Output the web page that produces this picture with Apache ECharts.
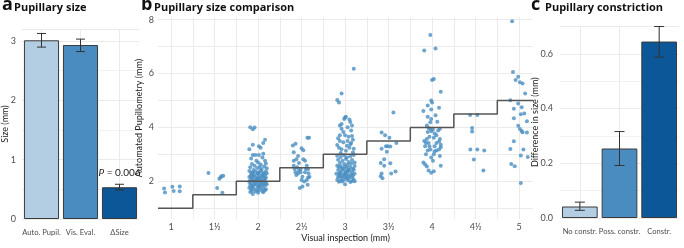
<!DOCTYPE html>
<html>
<head>
<meta charset="utf-8">
<script src="https://cdn.jsdelivr.net/npm/echarts@6/dist/echarts.min.js"></script>
<style>
  html, body { margin: 0; padding: 0; background: #fff; }
  #chart { width: 684px; height: 248px; }
</style>
</head>
<body>
<div id="chart"></div>
<script>
// panel a - pupillary size
const sizeCats = ['Auto. Pupil.', 'Vis. Eval.', 'ΔSize']
const sizeMeans = [3.01, 2.93, 0.535]
const sizeLow = [2.895, 2.82, 0.49]
const sizeHigh = [3.125, 3.03, 0.585]

// panel b - pupillary size comparison
const visualLevels = [1, 1.5, 2, 2.5, 3, 3.5, 4, 4.5, 5]
const pts1 = [[0.92, 1.73], [0.93, 1.58], [1.015, 1.80], [1.03, 1.64], [1.10, 1.81], [1.10, 1.63]]
const pts15 = [[1.43, 2.31], [1.53, 1.75], [1.555, 2.09], [1.57, 2.15], [1.58, 2.19], [1.60, 2.21], [1.59, 1.57]]
const pts2 = [
  [1.91, 4.01], [1.94, 3.93], [1.96, 4.00],
  [1.90, 3.19], [2.01, 3.30], [2.03, 3.25], [2.08, 3.54], [2.06, 3.42], [1.94, 3.36], [1.94, 2.98], [1.97, 2.98],
  [2.01, 2.98], [2.06, 3.02], [1.98, 2.76], [2.08, 2.76], [1.92, 2.85], [2.05, 2.88],
  [1.93, 2.64], [1.96, 2.58], [2.00, 2.70], [2.03, 2.62], [2.07, 2.55], [2.09, 2.66], [1.91, 2.52], [1.99, 2.49],
  [2.04, 2.45], [2.10, 2.48], [1.95, 2.42], [2.02, 2.53],
  [1.90, 2.38], [1.93, 2.33], [1.97, 2.36], [2.00, 2.30], [2.03, 2.39], [2.06, 2.32], [2.09, 2.37], [1.92, 2.25],
  [1.95, 2.22], [1.99, 2.27], [2.02, 2.21], [2.05, 2.26], [2.08, 2.23], [2.10, 2.29], [1.94, 2.30], [2.01, 2.34],
  [1.90, 2.16], [1.93, 2.12], [1.96, 2.18], [1.98, 2.08], [2.00, 2.14], [2.03, 2.10], [2.05, 2.17], [2.07, 2.05],
  [2.09, 2.13], [1.91, 2.04], [1.94, 2.07], [1.97, 2.02], [2.01, 2.06], [2.04, 2.01], [2.08, 2.09], [1.92, 2.19],
  [2.06, 2.20], [1.99, 2.11],
  [1.90, 1.97], [1.92, 1.92], [1.95, 1.99], [1.97, 1.94], [2.00, 1.96], [2.02, 1.90], [2.04, 1.98], [2.07, 1.93],
  [2.09, 1.95], [1.91, 1.86], [1.94, 1.83], [1.96, 1.88], [1.99, 1.85], [2.01, 1.81], [2.05, 1.87], [2.08, 1.84],
  [2.10, 1.89], [1.93, 1.80], [2.03, 1.84],
  [1.90, 1.76], [1.92, 1.71], [1.95, 1.74], [1.98, 1.69], [2.00, 1.77], [2.03, 1.72], [2.06, 1.75], [2.09, 1.70],
  [1.93, 1.65], [1.97, 1.62], [2.01, 1.66], [2.05, 1.64], [2.08, 1.67], [1.91, 1.60],
  [1.94, 1.53], [2.00, 1.57], [2.06, 1.59]
]
const pts25 = [
  [2.567, 3.62], [2.586, 3.62], [2.40, 3.33], [2.43, 3.39], [2.41, 3.08], [2.50, 3.23], [2.52, 3.15], [2.44, 2.82],
  [2.47, 2.68], [2.52, 2.82], [2.54, 2.76], [2.56, 2.58], [2.575, 2.46], [2.41, 2.58], [2.42, 2.46], [2.43, 2.34],
  [2.44, 2.23], [2.46, 2.29], [2.49, 2.34], [2.51, 2.17], [2.50, 2.05], [2.53, 1.99], [2.56, 2.05], [2.575, 2.14],
  [2.59, 2.17], [2.48, 1.75], [2.51, 1.81], [2.57, 1.87], [2.45, 2.52], [2.49, 2.46], [2.47, 2.40], [2.54, 2.34],
  [2.41, 2.76], [2.46, 2.94], [2.58, 2.30], [2.55, 2.46]
]
const pts3 = [
  [3.10, 6.18], [2.96, 5.26], [2.91, 5.02], [2.93, 4.93],
  [3.00, 4.37], [2.99, 4.31], [3.01, 4.40], [2.96, 4.13], [2.94, 4.07], [3.05, 4.29], [3.06, 4.20], [3.03, 4.01],
  [3.08, 4.07], [3.07, 3.89], [2.96, 3.95], [2.98, 3.83], [2.94, 3.71], [3.00, 3.71], [3.04, 3.65], [3.08, 3.68],
  [2.92, 3.60], [2.94, 3.50], [2.98, 3.45], [3.03, 3.50], [3.07, 3.42], [3.09, 3.54], [2.93, 3.25], [2.96, 3.19],
  [3.01, 3.13], [3.05, 3.25], [3.09, 3.07], [3.10, 3.21], [2.91, 3.35], [3.02, 3.32], [2.95, 3.05], [3.06, 3.38],
  [2.91, 2.95], [2.95, 2.90], [2.99, 2.97], [3.02, 2.88], [3.06, 2.93], [3.10, 2.98], [2.92, 2.80], [2.97, 2.76],
  [3.01, 2.83], [3.04, 2.72], [3.08, 2.79], [2.94, 2.68], [2.99, 2.64], [3.03, 2.61], [3.07, 2.66], [3.11, 2.70],
  [2.91, 2.58], [2.93, 2.52], [2.95, 2.56], [2.97, 2.48], [3.00, 2.55], [3.02, 2.50], [3.04, 2.44], [3.06, 2.53],
  [3.09, 2.47], [3.11, 2.57], [2.92, 2.42], [2.96, 2.39], [2.98, 2.45], [3.01, 2.36], [3.05, 2.40], [3.08, 2.34],
  [3.10, 2.43], [2.94, 2.33], [3.00, 2.31], [3.03, 2.38],
  [2.90, 2.28], [2.93, 2.24], [2.95, 2.29], [2.97, 2.20], [2.99, 2.26], [3.01, 2.22], [3.03, 2.27], [3.05, 2.18],
  [3.07, 2.25], [3.09, 2.21], [3.11, 2.28], [2.92, 2.15], [2.96, 2.12], [3.00, 2.16], [3.04, 2.11], [3.08, 2.14],
  [2.94, 2.19], [3.02, 2.13],
  [2.91, 2.05], [2.95, 2.02], [2.99, 2.07], [3.03, 2.04], [3.08, 2.01], [3.10, 2.06], [2.93, 1.98], [2.97, 1.99],
  [3.06, 1.97], [3.11, 2.00], [3.00, 1.89]
]
const pts35 = [
  [3.556, 4.55], [3.42, 3.81], [3.46, 3.71], [3.51, 3.62], [3.59, 3.42], [3.47, 3.30], [3.49, 3.30], [3.52, 3.29],
  [3.42, 3.21], [3.48, 3.10], [3.45, 2.82], [3.41, 2.68], [3.52, 2.67], [3.45, 2.58], [3.58, 2.36], [3.53, 2.29],
  [3.42, 2.29], [3.41, 2.19], [3.43, 2.11]
]
const pts4 = [
  [3.98, 7.43], [3.91, 6.86], [4.04, 6.93], [4.00, 5.76], [4.02, 5.80], [4.10, 5.32], [3.99, 5.00], [4.00, 4.93],
  [3.95, 4.81], [4.08, 4.73], [3.99, 4.67], [3.90, 4.61], [3.95, 4.40], [4.04, 4.45], [3.98, 4.19], [4.06, 4.21],
  [3.96, 3.98], [3.98, 3.95], [4.01, 3.92], [3.95, 3.83], [3.99, 3.86], [4.03, 3.77], [4.09, 3.95], [3.97, 3.65],
  [4.02, 3.62], [3.94, 3.57], [3.91, 3.50], [4.09, 3.57], [4.08, 3.48], [3.93, 3.42], [4.05, 3.42], [4.10, 3.36],
  [4.10, 3.26], [4.03, 3.30], [3.97, 3.30], [3.92, 3.30], [3.95, 3.14], [3.98, 3.18], [4.03, 3.12], [4.05, 3.14],
  [4.08, 3.18], [3.93, 3.00], [4.02, 3.00], [4.09, 2.94], [3.90, 2.70], [3.92, 2.62], [3.94, 2.55], [3.96, 2.40],
  [3.99, 2.32], [4.02, 2.37], [4.10, 2.58], [4.01, 2.76], [3.99, 4.31], [3.94, 4.07], [4.05, 3.71], [3.99, 2.88],
  [3.96, 3.42], [4.07, 3.89]
]
const pts45 = [[4.437, 4.46], [4.52, 4.46], [4.46, 3.98], [4.46, 3.85], [4.44, 3.18], [4.52, 3.18], [4.60, 3.14], [4.48, 2.81], [4.59, 2.40]]
const pts5 = [
  [4.92, 7.94], [4.93, 6.06], [4.99, 5.88], [4.96, 5.76], [5.01, 5.68], [5.04, 5.63], [5.07, 5.26], [4.90, 5.01],
  [4.99, 4.89], [4.94, 4.69], [5.03, 4.75], [5.06, 4.52], [5.02, 4.49], [4.94, 4.34], [5.09, 4.23], [4.99, 4.06],
  [5.01, 3.94], [5.03, 3.87], [5.04, 3.82], [5.09, 3.81], [4.94, 3.49], [4.90, 3.20], [5.05, 3.18], [5.02, 2.96],
  [5.10, 2.90], [4.91, 2.64], [4.95, 2.56], [5.02, 1.94]
]

// panel c - pupillary constriction
const constrCats = ['No constr.', 'Poss. constr.', 'Constr.']
const constrMeans = [0.042, 0.254, 0.645]
const constrLow = [0.028, 0.192, 0.588]
const constrHigh = [0.058, 0.316, 0.70]

const barColors = ['#b3cde3', '#4a8cbf', '#0b5797']
const gridClr = '#ebebeb'
const tickClr = '#4d4d4d'

const chart = echarts.init(document.getElementById('chart'), null, { renderer: 'canvas' })

const xMin = 0.85
const xMax = 5.16
// gridlines every quarter step (major at levels, minor between)
const gridX = []
visualLevels.forEach((v, i) => {
  gridX.push(v)
  if (i < visualLevels.length - 1) gridX.push((v + visualLevels[i + 1]) / 2)
})
const stepData = [[xMin, visualLevels[0]]]
  .concat(visualLevels.map(v => [v, v]))
  .concat([[xMax, visualLevels[visualLevels.length - 1]]])
const allPts = [].concat(pts1, pts15, pts2, pts25, pts3, pts35, pts4, pts45, pts5)

function halfFmt (v) {
  const whole = Math.floor(v)
  return v - whole > 0 ? whole + '½' : String(v)
}

function errRender (cap) {
  return function (params, api) {
    const i = api.value(0)
    const lo = api.coord([i, api.value(1)])
    const hi = api.coord([i, api.value(2)])
    const st = { stroke: '#333', lineWidth: 1 }
    return {
      type: 'group',
      children: [
        { type: 'line', shape: { x1: lo[0], y1: lo[1], x2: hi[0], y2: hi[1] }, style: st },
        { type: 'line', shape: { x1: hi[0] - cap, y1: hi[1], x2: hi[0] + cap, y2: hi[1] }, style: st },
        { type: 'line', shape: { x1: lo[0] - cap, y1: lo[1], x2: lo[0] + cap, y2: lo[1] }, style: st }
      ]
    }
  }
}

function catAxis (idx, cats) {
  return {
    type: 'category',
    gridIndex: idx,
    data: cats,
    axisLine: { show: false },
    axisTick: { show: false, alignWithLabel: true },
    axisLabel: { color: tickClr, fontSize: 7.6, margin: 10, interval: 0, hideOverlap: false },
    splitLine: { show: true, alignWithLabel: true, lineStyle: { color: gridClr } }
  }
}

function yName (txt, gap) {
  return {
    name: txt,
    nameLocation: 'middle',
    nameGap: gap,
    nameMoveOverlap: false,
    nameTextStyle: { fontSize: 9, color: '#222' }
  }
}

const titleBase = { fontFamily: 'Open Sans', fontWeight: 'bold', color: '#111' }
function letter (txt, left) {
  return { text: txt, left: left, top: -4, padding: 0, textStyle: Object.assign({ fontSize: 18 }, titleBase) }
}
function heading (txt, left) {
  return { text: txt, left: left, top: 2, padding: 0, textStyle: Object.assign({ fontSize: 11 }, titleBase) }
}

const option = {
  animation: false,
  textStyle: { fontFamily: 'Lato' },
  title: [
    letter('a', 2), heading('Pupillary size', 14),
    letter('b', 141), heading('Pupillary size comparison', 154),
    letter('c', 531), heading('Pupillary constriction', 545)
  ],
  grid: [
    { left: 20, top: 29, width: 119, height: 190 },
    { left: 158, top: 17, width: 375, height: 210 },
    { left: 560, top: 26.5, width: 119, height: 191.5 }
  ],
  xAxis: [
    catAxis(0, sizeCats),
    {
      type: 'value',
      gridIndex: 1,
      min: xMin,
      max: xMax,
      axisLine: { show: false },
      axisTick: { show: false, customValues: gridX },
      axisLabel: { customValues: visualLevels, formatter: halfFmt, color: tickClr, fontSize: 9, margin: 4 },
      splitLine: { show: true, lineStyle: { color: gridClr } },
      name: 'Visual inspection (mm)',
      nameLocation: 'middle',
      nameGap: 15,
      nameMoveOverlap: false,
      nameTextStyle: { fontSize: 9, color: '#222' }
    },
    catAxis(2, constrCats)
  ],
  yAxis: [
    Object.assign({
      type: 'value',
      gridIndex: 0,
      min: 0,
      max: 3.2,
      interval: 1,
      axisLine: { show: false },
      axisTick: { show: false },
      minorTick: { show: false, splitNumber: 2 },
      axisLabel: { color: tickClr, fontSize: 9, margin: 6, showMaxLabel: false },
      splitLine: { lineStyle: { color: gridClr } },
      minorSplitLine: { show: true, lineStyle: { color: '#f2f2f2' } }
    }, yName('Size (mm)', 12)),
    Object.assign({
      type: 'value',
      gridIndex: 1,
      min: 0.6,
      max: 8.1,
      axisLine: { show: false },
      axisTick: { show: false, customValues: [1, 2, 3, 4, 5, 6, 7, 8] },
      axisLabel: { customValues: [2, 4, 6, 8], color: tickClr, fontSize: 9, margin: 4 },
      splitLine: { show: true, lineStyle: { color: gridClr } }
    }, yName('Automated Pupillometry (mm)', 14)),
    Object.assign({
      type: 'value',
      gridIndex: 2,
      min: 0,
      max: 0.7,
      interval: 0.2,
      axisLine: { show: false },
      axisTick: { show: false },
      minorTick: { show: false, splitNumber: 2 },
      axisLabel: { color: tickClr, fontSize: 9, margin: 7, showMaxLabel: false, formatter: v => v.toFixed(1) },
      splitLine: { lineStyle: { color: gridClr } },
      minorSplitLine: { show: true, lineStyle: { color: '#f2f2f2' } }
    }, yName('Difference in size (mm)', 20))
  ],
  series: [
    {
      type: 'bar',
      xAxisIndex: 0,
      yAxisIndex: 0,
      barCategoryGap: '10%',
      data: sizeMeans.map((v, i) => ({
        value: v,
        itemStyle: { color: barColors[i], borderColor: '#3a3a3a', borderWidth: 1 },
        label: i === 2 ? {
          show: true,
          position: 'top',
          distance: 9,
          formatter: '{i|P} = 0.006',
          fontSize: 10,
          color: '#222',
          rich: { i: { fontStyle: 'italic', fontSize: 10, color: '#222' } }
        } : { show: false }
      }))
    },
    {
      type: 'custom',
      xAxisIndex: 0,
      yAxisIndex: 0,
      renderItem: errRender(4.5),
      encode: { x: 0, y: [1, 2] },
      data: sizeLow.map((l, i) => [i, l, sizeHigh[i]]),
      z: 3
    },
    {
      type: 'scatter',
      xAxisIndex: 1,
      yAxisIndex: 1,
      symbolSize: 4,
      itemStyle: { color: '#4a8ec2' },
      data: allPts
    },
    {
      type: 'line',
      xAxisIndex: 1,
      yAxisIndex: 1,
      step: 'middle',
      symbol: 'none',
      lineStyle: { color: '#555', width: 1.5 },
      data: stepData,
      z: 5
    },
    {
      type: 'bar',
      xAxisIndex: 2,
      yAxisIndex: 2,
      barCategoryGap: '10%',
      data: constrMeans.map((v, i) => ({
        value: v,
        itemStyle: { color: barColors[i], borderColor: '#3a3a3a', borderWidth: 1 }
      }))
    },
    {
      type: 'custom',
      xAxisIndex: 2,
      yAxisIndex: 2,
      renderItem: errRender(5),
      encode: { x: 0, y: [1, 2] },
      data: constrLow.map((l, i) => [i, l, constrHigh[i]]),
      z: 3
    }
  ]
}

chart.setOption(option)
</script>
</body>
</html>
